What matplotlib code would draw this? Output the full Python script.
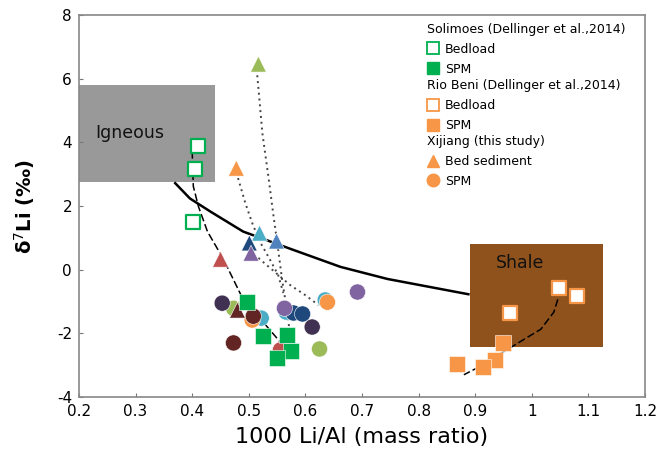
import matplotlib
matplotlib.use("Agg")
import matplotlib.pyplot as plt
from matplotlib.lines import Line2D
from matplotlib.legend import Legend
from matplotlib.patches import Rectangle
from matplotlib.ticker import FuncFormatter, MultipleLocator

# colours
green = "#00B050"
orange = "#F79646"
olive = "#9BBB59"
cyan = "#4BACC6"
navy = "#1F497D"
blue = "#4F81BD"
purple = "#8064A2"
red = "#C0504D"
darkred = "#632523"
darkpurple = "#403152"

# Solimoes (Dellinger et al., 2014)
sol_bed_x = [0.411, 0.405, 0.402]
sol_bed_y = [3.88, 3.16, 1.50]
sol_spm_x = [0.496, 0.526, 0.568, 0.575, 0.550]
sol_spm_y = [-1.02, -2.08, -2.05, -2.56, -2.78]

# Rio Beni (Dellinger et al., 2014)
beni_bed_x = [1.048, 1.080, 0.961]
beni_bed_y = [-0.58, -0.83, -1.36]
beni_spm_x = [0.949, 0.935, 0.913, 0.867]
beni_spm_y = [-2.30, -2.84, -3.06, -2.96]

# Xijiang bed sediment
xj_bed_x = [0.517, 0.478, 0.519, 0.501, 0.549, 0.504, 0.450, 0.480]
xj_bed_y = [6.46, 3.19, 1.15, 0.84, 0.90, 0.52, 0.33, -1.27]
xj_bed_c = [olive, orange, cyan, navy, blue, purple, red, darkred]

# Xijiang SPM
xj_spm_x = [0.473, 0.453, 0.522, 0.506, 0.508, 0.473, 0.556, 0.566,
            0.579, 0.595, 0.563, 0.612, 0.625, 0.635, 0.639, 0.692]
xj_spm_y = [-1.21, -1.05, -1.52, -1.58, -1.46, -2.30, -2.52, -1.33,
            -1.36, -1.39, -1.21, -1.80, -2.49, -0.95, -1.02, -0.70]
xj_spm_c = [olive, darkpurple, cyan, orange, darkred, darkred, red, cyan,
            navy, navy, purple, darkpurple, olive, cyan, orange, purple]

# mixing curve igneous -> shale
mix_x = [0.370, 0.396, 0.432, 0.490, 0.573, 0.662, 0.745, 0.888]
mix_y = [2.72, 2.24, 1.83, 1.20, 0.66, 0.09, -0.29, -0.77]

# dashed trends
sol_line_x = [0.400, 0.402, 0.411, 0.427, 0.455, 0.488, 0.515, 0.556]
sol_line_y = [3.73, 2.62, 1.99, 1.20, 0.34, -0.86, -1.43, -2.28]
beni_line_x = [1.046, 1.039, 1.016, 0.986, 0.963, 0.942, 0.904, 0.880]
beni_line_y = [-0.93, -1.33, -1.87, -2.19, -2.44, -2.66, -3.08, -3.30]

# dotted links bed sediment -> SPM
dot1_x = [0.515, 0.524, 0.535, 0.543, 0.552, 0.559, 0.566, 0.572]
dot1_y = [6.11, 4.29, 2.88, 1.78, 0.62, -0.33, -1.11, -1.90]
dot2_x = [0.481, 0.494, 0.506, 0.520, 0.538, 0.552, 0.561]
dot2_y = [2.88, 2.09, 1.47, 0.87, 0.30, -0.17, -0.73]
dot3_x = [0.517, 0.542, 0.573, 0.600, 0.623]
dot3_y = [0.37, -0.01, -0.48, -0.80, -1.11]

fig = plt.figure(figsize=(6.56, 4.59), dpi=100)
ax = fig.add_axes([0.1204, 0.135, 0.8628, 0.832])

ax.add_patch(Rectangle((0.2, 2.75), 0.24, 3.05, facecolor="#999999", edgecolor="none", zorder=1))
ax.add_patch(Rectangle((0.890, -2.44), 0.236, 3.25, facecolor="#8F521C", edgecolor="none", zorder=1))
ax.text(0.228, 4.29, "Igneous", fontsize=12.5, va="center", ha="left", color="#111111", zorder=2)
ax.text(0.936, 0.21, "Shale", fontsize=12.5, va="center", ha="left", color="#111111", zorder=2)

ax.plot(mix_x, mix_y, color="black", lw=1.8, zorder=2)
ax.plot(sol_line_x, sol_line_y, color="black", lw=1.1, ls=(0, (5, 2)), zorder=2)
ax.plot(beni_line_x, beni_line_y, color="black", lw=1.1, ls=(0, (5, 2)), zorder=2)
for dx, dy in [(dot1_x, dot1_y), (dot2_x, dot2_y), (dot3_x, dot3_y)]:
    ax.plot(dx, dy, color="#444444", lw=1.4, ls=(0, (1, 2)), zorder=2)

ax.scatter(xj_spm_x, xj_spm_y, s=135, marker="o", c=xj_spm_c, edgecolors="white", linewidths=0.4, zorder=4)
ax.scatter(xj_bed_x, xj_bed_y, s=130, marker="^", c=xj_bed_c, edgecolors="white", linewidths=0.4, zorder=5)
ax.scatter(sol_spm_x, sol_spm_y, s=120, marker="s", c=green, edgecolors="white", linewidths=0.4, zorder=6)
ax.scatter(sol_bed_x, sol_bed_y, s=105, marker="s", facecolors="white", edgecolors=green, linewidths=1.6, zorder=6)
ax.scatter(beni_spm_x, beni_spm_y, s=120, marker="s", c=orange, edgecolors="white", linewidths=0.4, zorder=6)
ax.scatter(beni_bed_x, beni_bed_y, s=105, marker="s", facecolors="white", edgecolors=orange, linewidths=1.6, zorder=6)

ax.set_xlim(0.2, 1.2)
ax.set_ylim(-4, 8)
ax.xaxis.set_major_locator(MultipleLocator(0.1))
ax.yaxis.set_major_locator(MultipleLocator(2))
ax.xaxis.set_major_formatter(FuncFormatter(lambda v, p: "%g" % round(v, 1)))
ax.yaxis.set_major_formatter(FuncFormatter(lambda v, p: "%g" % v))
ax.tick_params(direction="in", length=3, color="#777777", labelsize=11, pad=5)
for sp in ax.spines.values():
    sp.set_color("#888888")
    sp.set_linewidth(1.2)

ax.set_xlabel("1000 Li/Al (mass ratio)", fontsize=16, labelpad=6)
ax.set_ylabel("δ$^7$Li (‰)", fontsize=14, fontweight="bold", labelpad=14)

# legends, one per data source
groups = [
    ("Solimoes (Dellinger et al.,2014)", 0.98,
     [Line2D([], [], ls="", marker="s", ms=8, mfc="white", mec=green, mew=1.3),
      Line2D([], [], ls="", marker="s", ms=8, mfc=green, mec=green)],
     ["Bedload", "SPM"]),
    ("Rio Beni (Dellinger et al.,2014)", 0.832,
     [Line2D([], [], ls="", marker="s", ms=8, mfc="white", mec=orange, mew=1.3),
      Line2D([], [], ls="", marker="s", ms=8, mfc=orange, mec=orange)],
     ["Bedload", "SPM"]),
    ("Xijiang (this study)", 0.686,
     [Line2D([], [], ls="", marker="^", ms=9, mfc=orange, mec=orange),
      Line2D([], [], ls="", marker="o", ms=9, mfc=orange, mec=orange)],
     ["Bed sediment", "SPM"]),
]
for title, ytop, handles, labels in groups:
    leg = Legend(ax, handles, labels, title=title, loc="upper left",
                 bbox_to_anchor=(0.615, ytop), frameon=False, fontsize=9,
                 title_fontsize=9, alignment="left", borderpad=0,
                 handlelength=1.0, handletextpad=0.45, labelspacing=0.55,
                 borderaxespad=0)
    ax.add_artist(leg)

fig.savefig("out.png", dpi=100)
